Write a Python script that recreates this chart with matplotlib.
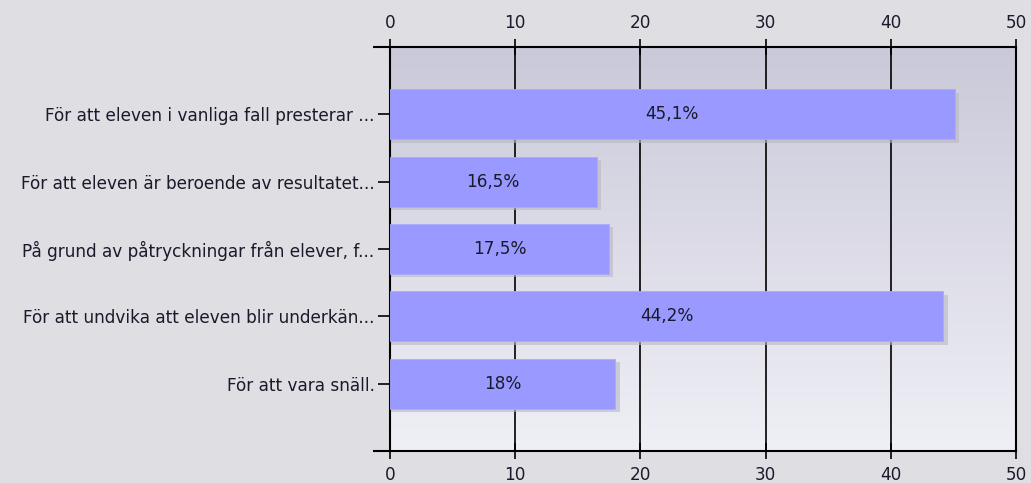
import matplotlib.pyplot as plt
import numpy as np
from matplotlib.colors import LinearSegmentedColormap

# data
labels = [
    "För att eleven i vanliga fall presterar ...",
    "För att eleven är beroende av resultatet...",
    "På grund av påtryckningar från elever, f...",
    "För att undvika att eleven blir underkän...",
    "För att vara snäll.",
]
values = [45.1, 16.5, 17.5, 44.2, 18.0]
value_labels = ["45,1%", "16,5%", "17,5%", "44,2%", "18%"]
xticks = [0, 10, 20, 30, 40, 50]

plt.rcParams["font.family"] = ["DejaVu Sans"]
plt.rcParams["font.size"] = 12.2

fig = plt.figure(figsize=(10.31, 4.83), dpi=100, facecolor="#dfdee3")
ax = fig.add_axes([390 / 1031, 1 - 451 / 483, 626 / 1031, 404 / 483])

# gradient background
grad = LinearSegmentedColormap.from_list("bg", ["#cac9d9", "#efeff6"])
ax.imshow(np.linspace(0, 1, 256).reshape(-1, 1), cmap=grad, aspect="auto",
          extent=[0, 50, 6, 0], zorder=0)

y = np.arange(1, len(values) + 1)

# grid lines
for t in xticks[1:-1]:
    ax.axvline(t, color="black", lw=1.2, zorder=1)

# shadow
ax.barh(y + 0.05, np.array(values) + 0.35, height=0.74, left=0, color="#b8b8c4",
        alpha=0.6, zorder=2)
ax.barh(y, values, height=0.74, color="#9999ff", edgecolor="#aaaaff", lw=0.6, zorder=3)

for yi, v, s in zip(y, values, value_labels):
    ax.text(v / 2, yi, s, ha="center", va="center", color="#1a1a2a", zorder=4)

ax.set_xlim(0, 50)
ax.set_ylim(6, 0)
ax.set_xticks(xticks)
ax.set_yticks(y)
ax.set_yticklabels(labels, color="#1a1a2a")
ax.set_yticks([0, 6], minor=True)
ax.tick_params(axis="x", top=True, labeltop=True, bottom=True, direction="inout",
               length=12, width=1.2, colors="black", labelcolor="#1a1a2a", pad=5)
ax.tick_params(axis="y", which="major", direction="out", length=9, width=1.2, pad=2)
ax.tick_params(axis="y", which="minor", direction="out", length=12, width=1.5)

for s in ax.spines.values():
    s.set_linewidth(1.5)
    s.set_color("black")

plt.savefig("out.png", dpi=100, facecolor=fig.get_facecolor())
